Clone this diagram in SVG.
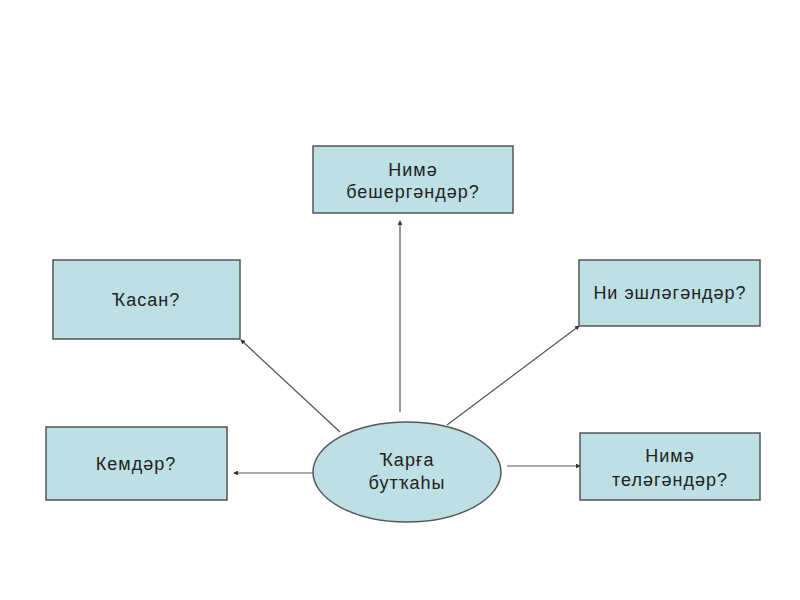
<svg xmlns="http://www.w3.org/2000/svg" width="800" height="600" viewBox="0 0 800 600">
<defs>
<style>
.box{fill:#bce0e3;stroke:#555;stroke-width:1.5}
.t{font-family:"Liberation Sans",Arial,sans-serif;font-size:18px;letter-spacing:1px;fill:#222;text-anchor:middle}
.c{stroke:#555;stroke-width:1.2;fill:none;marker-end:url(#a)}
</style>
<marker id="a" viewBox="0 0 6 6" refX="5" refY="3" markerWidth="4" markerHeight="4" orient="auto">
<path d="M0,0 L6,3 L0,6 Z" fill="#333"/>
</marker>
</defs>
<rect width="800" height="600" fill="#fff"/>
<g id="connectors">
<line class="c" x1="400" y1="412" x2="400" y2="221"/>
<line class="c" x1="340" y1="432" x2="241" y2="340"/>
<line class="c" x1="447" y1="425" x2="579" y2="326"/>
<line class="c" x1="313" y1="473" x2="234" y2="473"/>
<line class="c" x1="507" y1="466" x2="580" y2="466"/>
</g>
<g id="center">
<ellipse class="box" cx="407" cy="472" rx="94" ry="50"/>
<text class="t" x="407" y="466">Ҡарға</text>
<text class="t" x="407" y="489">бутҡаһы</text>
</g>
<g id="n-top">
<rect class="box" x="313" y="146" width="200" height="67"/>
<text class="t" x="413" y="176">Нимә</text>
<text class="t" x="413" y="198">бешергәндәр?</text>
</g>
<g id="n-kasan">
<rect class="box" x="53" y="260" width="187" height="79"/>
<text class="t" x="146" y="306">Ҡасан?</text>
</g>
<g id="n-ni">
<rect class="box" x="579" y="260" width="181" height="66"/>
<text class="t" x="670" y="299">Ни эшләгәндәр?</text>
</g>
<g id="n-kem">
<rect class="box" x="46" y="427" width="181" height="73"/>
<text class="t" x="136" y="470">Кемдәр?</text>
</g>
<g id="n-tele">
<rect class="box" x="580" y="433" width="180" height="67"/>
<text class="t" x="670" y="462">Нимә</text>
<text class="t" x="670" y="486">теләгәндәр?</text>
</g>
</svg>
